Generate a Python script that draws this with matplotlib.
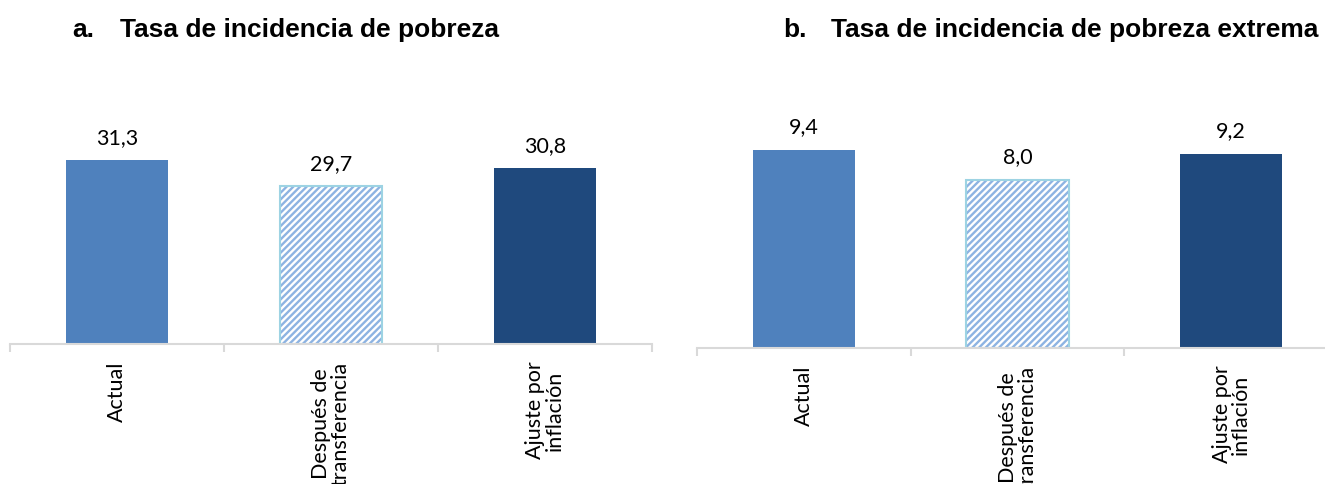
import numpy as np
import matplotlib.pyplot as plt
from matplotlib import font_manager

# data
categories = ['Actual', 'Después de\ntransferencia', 'Ajuste por\ninflación']
pobreza = [31.3, 29.7, 30.8]
pobreza_extrema = [9.4, 8.0, 9.2]
titles = ['Tasa de incidencia de pobreza', 'Tasa de incidencia de pobreza extrema']
letters = ['a.', 'b.']

installed = {f.name for f in font_manager.fontManager.ttflist}
title_font = 'Liberation Sans Narrow' if 'Liberation Sans Narrow' in installed else 'Liberation Sans'
body_font = 'Lato'

plt.rcParams['hatch.linewidth'] = 1.7

fig = plt.figure(figsize=(13.25, 4.85), dpi=100)
W, H = 1325, 485

# axes boxes in pixels
ax1 = fig.add_axes([10 / W, (H - 345) / H, 642 / W, 244 / H])
ax2 = fig.add_axes([697 / W, (H - 349) / H, 641 / W, 252.7 / H])

fills = ['#4F81BD', None, '#1F497D']


def draw(ax, values, ylim):
    x = np.arange(len(values))
    for i, v in enumerate(values):
        if fills[i] is None:
            ax.bar(x[i], v - ylim[0], bottom=ylim[0], width=0.48, color='white',
                   hatch='/////', edgecolor='#8DB3E2', linewidth=0)
            ax.bar(x[i], v - ylim[0], bottom=ylim[0], width=0.48, fill=False,
                   edgecolor='#9DD3E3', linewidth=1.5)
        else:
            ax.bar(x[i], v - ylim[0], bottom=ylim[0], width=0.48, color=fills[i])
        ax.text(x[i], v + (ylim[1] - ylim[0]) * 0.055, f'{v:.1f}'.replace('.', ','),
                ha='center', va='bottom', fontsize=15.5, family=body_font)
    ax.set_xlim(-0.5, len(values) - 0.5)
    ax.set_ylim(*ylim)
    for s in ['top', 'left', 'right']:
        ax.spines[s].set_visible(False)
    ax.spines['bottom'].set_color('#D9D9D9')
    ax.spines['bottom'].set_linewidth(1.5)
    ax.set_yticks([])
    ax.set_xticks(np.arange(len(values) + 1) - 0.5)
    ax.set_xticklabels([])
    ax.tick_params(axis='x', which='major', length=6, width=1.5, color='#D9D9D9')
    ax.set_xticks(x, minor=True)
    ax.set_xticklabels(categories, minor=True, rotation=90, fontsize=15.5,
                       family=body_font, linespacing=0.95)
    ax.tick_params(axis='x', which='minor', length=0, pad=12)


draw(ax1, pobreza, (20, 35))
draw(ax2, pobreza_extrema, (0, 12))

fig.text(72 / W, 1 - 30 / H, letters[0], fontsize=19, weight='bold', family=title_font, va='center')
fig.text(120 / W, 1 - 30 / H, titles[0], fontsize=19, weight='bold', family=title_font, va='center')
fig.text(783 / W, 1 - 30 / H, letters[1], fontsize=19, weight='bold', family=title_font, va='center')
fig.text(831 / W, 1 - 30 / H, titles[1], fontsize=19, weight='bold', family=title_font, va='center')

fig.savefig('out.png', dpi=100)
